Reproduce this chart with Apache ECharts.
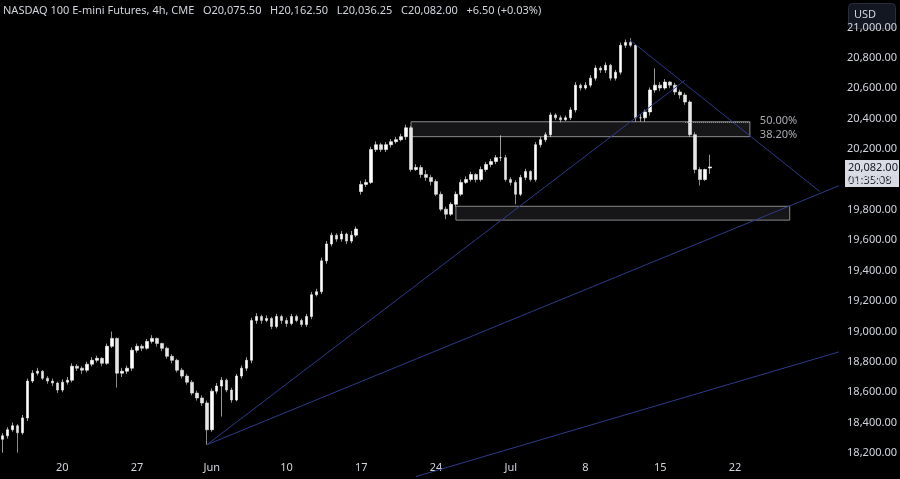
<!DOCTYPE html>
<html>
<head>
<meta charset="utf-8">
<script src="https://cdn.jsdelivr.net/npm/echarts@6/dist/echarts.min.js"></script>
<style>html,body{margin:0;background:#000;}#main{width:900px;height:479px;}</style>
</head>
<body>
<div id="main"></div>
<script>
// 4h bars, 3 per trading day shown, from May 14 to Jul 19
var closes = [18313,18353,18379,18333,18431,18673,18725,18738,18692,18673,18660,18614,18666,18679,18771,18758,18745,18784,18810,18823,
  18790,18902,18954,18725,18738,18758,18876,18902,18889,18934,18954,18921,18889,18836,18810,18745,18706,18666,18594,18562,
  18529,18353,18607,18640,18679,18614,18549,18706,18758,18810,19072,19098,19072,19085,19032,19098,19072,19052,19098,19072,
  19045,19098,19241,19261,19464,19575,19633,19607,19640,19594,19633,19673,19967,19980,20196,20228,20196,20228,20248,20261,
  20281,20339,20065,20078,20032,20013,19986,19902,19804,19771,19836,19902,19980,19999,20032,19999,20065,20098,20117,20143,
  20143,19999,19980,19902,20013,20052,19999,20228,20261,20294,20424,20405,20392,20405,20457,20620,20601,20620,20666,20732,
  20719,20751,20666,20705,20882,20901,20882,20405,20405,20444,20588,20620,20601,20640,20620,20575,20555,20509,20294,20065,
  19999,20065,20082];
var opens = [18290,18313,18353,18379,18333,18431,18673,18725,18738,18692,18673,18660,18614,18666,18679,18771,18758,18745,18784,18810,
  18823,18790,18902,18954,18725,18738,18758,18876,18902,18889,18934,18954,18921,18889,18836,18810,18745,18706,18666,18594,
  18562,18529,18353,18607,18640,18679,18614,18549,18706,18758,18810,19072,19098,19072,19085,19032,19098,19072,19052,19098,
  19072,19045,19098,19241,19261,19464,19575,19633,19607,19640,19594,19633,19920,19967,19980,20196,20228,20196,20228,20248,
  20261,20281,20339,20065,20078,20032,20013,19986,19902,19804,19771,19836,19902,19980,19999,20032,19999,20065,20098,20117,
  20143,20143,19999,19980,19902,20013,20052,19999,20228,20261,20294,20424,20405,20392,20405,20457,20620,20601,20620,20666,
  20732,20719,20751,20666,20705,20882,20901,20882,20405,20405,20444,20588,20620,20601,20640,20620,20575,20555,20509,20294,
  20065,19999,20075];
var highs = [18330,18370,18400,18390,18450,18690,18745,18760,18745,18705,18690,18670,18685,18700,18790,18785,18770,18800,18830,18840,
  18830,18920,18999,18960,18760,18775,18895,18920,18915,18950,18975,18960,18925,18900,18850,18820,18760,18720,18680,18610,
  18580,18545,18625,18660,18700,18690,18630,18720,18775,18830,19090,19120,19110,19105,19095,19115,19110,19090,19115,19110,
  19085,19115,19260,19280,19485,19595,19650,19645,19660,19650,19660,19690,19990,20000,20215,20250,20240,20245,20265,20280,
  20300,20360,20350,20100,20095,20060,20030,20000,19920,19820,19850,19920,20000,20020,20050,20040,20085,20115,20135,20160,
  20290,20160,20015,19995,20030,20070,20060,20245,20280,20310,20440,20435,20420,20420,20475,20640,20630,20640,20685,20750,
  20745,20770,20760,20720,20900,20920,20928,20890,20430,20460,20605,20730,20640,20660,20645,20635,20590,20570,20520,20310,
  20080,20070,20162];
var lows = [18202,18295,18340,18202,18320,18410,18660,18710,18680,18655,18640,18595,18600,18650,18665,18740,18720,18730,18770,18795,
  18770,18780,18890,18630,18700,18720,18740,18860,18870,18880,18920,18900,18870,18820,18790,18730,18690,18650,18580,18545,
  18510,18254,18340,18590,18440,18600,18530,18540,18690,18740,18790,19050,19050,19060,19015,19020,19050,19030,19040,19060,
  19030,19030,19080,19230,19245,19445,19560,19590,19590,19575,19580,19620,19900,19950,19970,20180,20180,20180,20210,20235,
  20250,20260,20050,20055,20010,19990,19960,19890,19790,19738,19760,19820,19890,19970,19985,19980,19985,20050,20080,20100,
  20120,19985,19960,19836,19890,19995,19985,19985,20210,20245,20280,20390,20375,20385,20390,20440,20585,20590,20605,20650,
  20700,20700,20650,20650,20690,20865,20870,20380,20380,20380,20420,20570,20580,20590,20600,20555,20530,20490,20280,20040,
  19960,19990,20036];
var xTicks = {12:'20', 27:'27', 42:'Jun', 57:'10', 72:'17', 87:'24', 102:'Jul', 117:'8', 132:'15', 147:'22'};
var nCats = 168;
var priceMin = 18200, priceMax = 21180;
// drawn lines: [barIndex, price]
var trendUp1 = [[41, 18254], [137, 20653]];
var trendUp2 = [[41, 18254], [168, 19960]];
var trendUp3 = [[83, 18045], [169, 18876]];
var trendDown = [[126, 20915], [164, 19921]];
var zoneTop = [[81.6, 20379], [150.4, 20281]];
var zoneBottom = [[90.6, 19823], [158.4, 19732]];
var fibLabels = [['50.00%', 20382], ['38.20%', 20290]];
var lastPrice = 20082.00;

var cats = [];
for (var i = 0; i < nCats; i++) cats.push(String(i));
var ohlc = closes.map(function (c, i) { return [opens[i], c, lows[i], highs[i]]; });

var chart = echarts.init(document.getElementById('main'));
var lineStyle = {color: '#2e3a87', width: 1};
function trend(d) {
  return {type: 'line', data: d, symbol: 'none', lineStyle: lineStyle, silent: true, clip: false, z: 3};
}
var font = '"Noto Sans", sans-serif';
chart.setOption({
  backgroundColor: '#000',
  animation: false,
  grid: {left: 0, right: 60, top: 0, bottom: 26},
  xAxis: {
    type: 'category', data: cats, boundaryGap: true,
    axisLine: {show: false}, axisTick: {show: false}, splitLine: {show: false},
    axisLabel: {
      color: '#d1d4dc', fontSize: 11, fontFamily: font, margin: 9,
      interval: function (idx) { return xTicks[idx] !== undefined; },
      formatter: function (v, idx) { return xTicks[idx] || ''; }
    }
  },
  yAxis: {
    type: 'value', position: 'right', min: priceMin, max: priceMax, interval: 200,
    axisLine: {show: false}, axisTick: {show: false}, splitLine: {show: false},
    axisLabel: {
      color: '#d1d4dc', fontSize: 11, fontFamily: font, margin: 10, showMaxLabel: false,
      formatter: function (v) { return v.toLocaleString('en-US', {minimumFractionDigits: 2}); }
    }
  },
  series: [
    {
      type: 'candlestick', data: ohlc, barWidth: 3,
      itemStyle: {color: '#ffffff', color0: '#e6e6e6', borderColor: '#ffffff', borderColor0: '#e6e6e6', borderWidth: 0.6},
      markArea: {
        silent: true,
        itemStyle: {color: 'rgba(40,40,44,0.55)', borderColor: '#8a8a8e', borderWidth: 1},
        data: [
          [{coord: zoneTop[0]}, {coord: zoneTop[1]}],
          [{coord: zoneBottom[0]}, {coord: zoneBottom[1]}]
        ]
      },
      markLine: {
        silent: true, symbol: 'none', label: {show: false},
        lineStyle: {color: '#9a9a9a', type: 'dotted', width: 1},
        data: [[{coord: [137, 20379]}, {coord: [150.4, 20379]}]]
      }
    },
    trend(trendUp1), trend(trendUp2), trend(trendUp3), trend(trendDown),
    {
      type: 'scatter', symbolSize: 0, silent: true,
      data: fibLabels.map(function (f) { return {value: [151, f[1]], name: f[0]}; }),
      label: {show: true, position: 'right', formatter: '{b}', color: '#d1d4dc', fontSize: 11, fontFamily: font}
    }
  ],
  graphic: [
    {type: 'text', left: 3, top: 5, style: {text: 'NASDAQ 100 E-mini Futures, 4h, CME   O20,075.50   H20,162.50   L20,036.25   C20,082.00   +6.50 (+0.03%)', fill: '#d1d4dc', font: '11px "Noto Sans", sans-serif'}},
    {type: 'rect', right: 4, top: 3, shape: {width: 47, height: 25, r: 4}, style: {fill: '#131722', stroke: '#2a2e39'}},
    {type: 'text', right: 24, top: 9, style: {text: 'USD', fill: '#d1d4dc', font: '11px "Noto Sans", sans-serif'}},
    {type: 'rect', left: 845, top: 160, shape: {width: 54, height: 27}, style: {fill: '#d9dce3'}},
    {type: 'text', left: 848, top: 161, style: {text: lastPrice.toLocaleString('en-US', {minimumFractionDigits: 2}) + '\n01:35:08', fill: '#131722', font: '11px "Noto Sans", sans-serif', lineHeight: 13}}
  ]
});
</script>
</body>
</html>
